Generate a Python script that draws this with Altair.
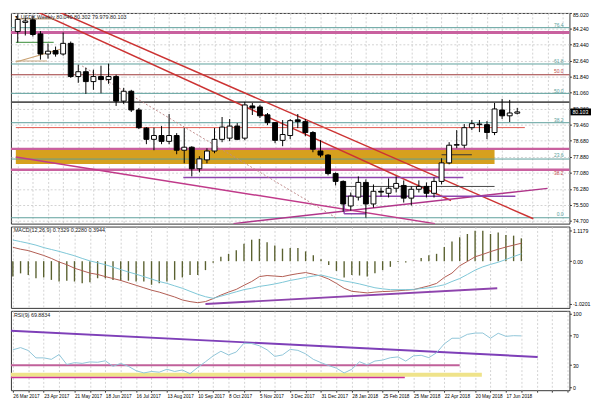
import json
import altair as alt
import pandas as pd

# ---------------- data ----------------
START = "2017-03-26"
opens  = [84.10, 84.55, 84.68, 83.98, 82.98, 83.15, 82.98, 83.51, 81.86, 82.10, 81.61, 81.86, 81.71, 81.86, 80.64, 81.13, 80.20,
          79.30, 78.74, 78.93, 78.64, 78.93, 78.20, 78.35, 77.28, 77.72, 78.16, 78.74, 78.80, 79.40, 78.80, 80.40, 80.35, 79.96,
          79.57, 78.69, 78.93, 79.71, 79.62, 79.08, 78.16, 77.96, 77.04, 76.65, 75.43, 75.87, 76.60, 75.53, 76.16, 76.06, 76.31,
          76.45, 75.82, 76.26, 76.40, 76.06, 76.65, 77.57, 78.45, 78.45, 79.32, 79.47, 79.47, 79.08, 80.20, 79.91, 80.040]
highs  = [84.95, 84.80, 84.88, 84.12, 83.50, 83.35, 84.05, 83.60, 82.45, 82.30, 82.20, 82.40, 82.50, 81.95, 81.30, 81.20, 80.30,
          79.35, 79.32, 79.40, 80.00, 79.05, 79.30, 78.40, 77.90, 78.30, 79.30, 79.85, 79.75, 79.55, 80.60, 80.55, 80.45, 80.05,
          79.60, 79.70, 79.75, 80.00, 79.75, 79.15, 78.70, 78.00, 77.10, 76.70, 76.10, 76.90, 76.75, 76.50, 76.35, 76.80, 76.90,
          76.70, 76.40, 76.70, 76.60, 76.85, 77.80, 78.60, 79.20, 79.50, 79.70, 79.70, 79.65, 80.55, 80.75, 80.70, 80.302]
lows   = [83.55, 83.90, 83.85, 82.70, 82.75, 82.85, 82.90, 81.80, 81.55, 81.00, 81.20, 81.03, 81.50, 80.40, 80.50, 80.10, 79.25,
          78.50, 78.20, 78.50, 78.50, 78.00, 77.55, 76.90, 77.10, 77.55, 78.05, 78.60, 78.65, 78.70, 78.70, 79.95, 79.80, 79.45,
          78.55, 78.40, 78.75, 79.30, 78.90, 78.10, 77.85, 76.95, 76.45, 75.15, 75.20, 75.70, 74.85, 75.35, 75.90, 75.85, 76.10,
          75.60, 75.45, 76.10, 75.85, 75.85, 76.50, 77.50, 78.30, 78.30, 79.20, 79.10, 78.75, 78.95, 79.75, 79.60, 79.979]
closes = [84.70, 84.62, 83.95, 82.98, 83.12, 82.98, 83.51, 81.86, 82.10, 81.61, 81.86, 81.71, 81.86, 80.64, 81.13, 80.20, 79.32,
          78.74, 78.93, 78.64, 78.93, 78.20, 78.35, 77.28, 77.77, 78.16, 78.74, 79.35, 79.40, 78.74, 80.45, 80.30, 79.91, 79.57,
          78.69, 78.98, 79.67, 79.62, 79.08, 78.25, 77.96, 77.04, 76.65, 75.53, 75.92, 76.60, 75.53, 76.16, 76.12, 76.31, 76.55,
          75.82, 76.26, 76.40, 76.06, 76.65, 77.57, 78.45, 78.48, 79.32, 79.52, 79.50, 79.08, 80.25, 79.91, 80.05, 80.103]

macd_hist = [-0.57, -0.45, -0.51, -0.63, -0.60, -0.69, -0.75, -0.72, -0.75, -0.81, -0.78, -0.63, -0.63, -0.69, -0.72, -0.72,
             -0.75, -0.75, -0.87, -0.81, -0.75, -0.69, -0.60, -0.51, -0.51, -0.33, -0.06, 0.16, 0.27, 0.40, 0.64, 0.79, 0.82,
             0.70, 0.58, 0.46, 0.48, 0.48, 0.36, 0.22, 0.07, -0.14, -0.36, -0.60, -0.51, -0.53, -0.57, -0.45, -0.33, -0.21,
             -0.03, -0.05, 0.02, 0.12, 0.22, 0.27, 0.52, 0.72, 0.88, 1.00, 1.12, 1.12, 1.00, 1.06, 0.96, 0.94, 0.84]
macd_red = [0.51, 0.44, 0.39, 0.30, 0.21, 0.10, -0.03, -0.13, -0.26, -0.35, -0.44, -0.49, -0.57, -0.64, -0.71, -0.80, -0.89,
            -0.98, -1.07, -1.14, -1.23, -1.32, -1.43, -1.49, -1.53, -1.49, -1.38, -1.25, -1.14, -1.04, -0.89, -0.75, -0.57,
            -0.53, -0.55, -0.57, -0.51, -0.46, -0.42, -0.48, -0.55, -0.66, -0.82, -1.00, -1.11, -1.14, -1.17, -1.14, -1.12,
            -1.11, -1.09, -1.07, -1.05, -0.98, -0.91, -0.82, -0.60, -0.44, -0.17, -0.01, 0.16, 0.25, 0.35, 0.44, 0.52, 0.59, 0.66]
macd_blue = [0.78, 0.72, 0.66, 0.59, 0.50, 0.43, 0.36, 0.28, 0.20, 0.10, 0.01, -0.06, -0.13, -0.22, -0.31, -0.40, -0.48,
             -0.57, -0.66, -0.75, -0.82, -0.91, -1.00, -1.11, -1.22, -1.31, -1.37, -1.29, -1.21, -1.13, -1.05, -1.00, -0.93,
             -0.89, -0.84, -0.78, -0.71, -0.66, -0.60, -0.55, -0.51, -0.58, -0.66, -0.73, -0.78, -0.84, -0.91, -0.98, -1.02,
             -1.05, -1.05, -1.05, -1.04, -1.01, -0.98, -0.93, -0.87, -0.75, -0.64, -0.49, -0.33, -0.21, -0.12, -0.04, 0.06, 0.17, 0.27]
rsi = [51, 54, 50, 40, 40, 38, 44.5, 31, 33.5, 32.5, 34.5, 34, 36, 28.5, 32.5, 28.5, 22.5, 19.5, 21.5, 20.5, 24.5, 21.5, 23.5,
       18.5, 27, 34.7, 42.7, 49, 44, 48, 60, 59.5, 56.5, 51, 42, 44, 51.6, 50.2, 45.5, 38, 33.5, 29.5, 26, 19.5, 24.5, 34.7,
       30.5, 35.7, 37, 40.2, 41.3, 35.6, 42.7, 43.5, 40.3, 47, 59, 66.7, 66.7, 72, 73.7, 73.8, 66.7, 73.5, 69.3, 70.2, 69.9]

price_ticks = [85.020, 84.240, 83.440, 82.640, 81.840, 81.060, 80.260, 79.460, 78.680, 77.880, 77.080, 76.280, 75.500, 74.700]

# full-width horizontal levels
level_prices = [84.289, 84.046, 82.484, 81.950, 81.025, 80.590, 79.567, 78.270, 77.762, 77.230, 74.845]
level_colors = ["#5a9e9a", "#c9619f", "#5a9e9a", "#9e3b3b", "#5a9e9a", "#555555", "#5a9e9a", "#c9619f", "#5a9e9a", "#c9619f", "#5a9e9a"]
level_widths = [1, 3, 1, 1.2, 1, 1.8, 1, 2.2, 1, 2.4, 1]

# fibonacci labels at the right edge
fib_text   = ["76.4", "61.8", "50.0", "50.0", "38.2", "23.6", "38.2", "0.0"]
fib_price  = [84.436, 82.634, 82.148, 81.125, 79.713, 77.961, 77.084, 75.040]
fib_color  = ["#5a9e9a", "#5a9e9a", "#c0504d", "#5a9e9a", "#5a9e9a", "#5a9e9a", "#c0504d", "#5a9e9a"]

# drawn trend lines / segments (week index, price)
seg_w1 = [3.375, 0.625, -0.25, 28.5, -0.25, -0.25, -0.25, -0.25, -0.25, 21.875, 42.625, 43.125, 43.125, 43.125, 56.0]
seg_p1 = [85.41, 85.41, 77.863, 74.553, 82.586, 84.728, 83.559, 82.634, 79.324, 76.84, 76.40, 75.916, 75.04, 75.916, 77.975]
seg_w2 = [68.125, 57.25, 55.125, 70.0, 5.625, 5.0, 4.75, 3.875, 67.0, 58.875, 63.0, 65.75, 46.0, 43.125, 60.0]
seg_p2 = [74.796, 75.70, 74.553, 76.305, 83.219, 84.728, 83.559, 82.634, 79.324, 76.84, 76.40, 75.916, 75.04, 75.04, 77.975]
seg_color = ["#cc3333", "#cc3333", "#c03a8a", "#b0358a", "#c8a070", "#c8a882", "#5fa35f", "#c8a882", "#e0584f",
             "#8e44ad", "#444444", "#8e44ad", "#8e44ad", "#8e44ad", "#333333"]
seg_width = [1.5, 1.5, 1.5, 1.5, 1.2, 1.2, 1.2, 1.2, 1, 1.5, 1, 1.5, 1.5, 1.5, 1]

dotted_w = [8.5, 42.25]
dotted_p = [82.39, 74.80]

zone_w = [-0.25, 63.0]
zone_p = [77.52, 78.27]

macd_trend_w = [25.0, 62.875]
macd_trend_v = [-1.578, -1.0]

rsi_trend_w = [-0.25, 68.125]
rsi_trend_v = [77.0, 41.3]
rsi_seg_w2 = [58.0, 60.875, 50.875]
rsi_seg_v = [30.0, 17.0, 13.3]
rsi_seg_color = ["#c0609a", "#efe38a", "#cc3399"]
rsi_seg_width = [2, 4, 1.5]

title_main = "\u25bc USDX,Weekly  80.040 80.302 79.979 80.103"
title_macd = "MACD(12,26,9) 0.7329 0.2280 0.3944"
title_rsi = "RSI(9) 69.8834"
last_price = 80.103

# ---------------- tables ----------------
n = len(opens)
wk = list(range(n))
candles = pd.DataFrame({"wk": wk, "open": opens, "high": highs, "low": lows, "close": closes})
ind = pd.DataFrame({"wk": wk, "hist": macd_hist, "red": macd_red, "blue": macd_blue, "rsi": rsi, "zero": 0.0})
levels = pd.DataFrame({"p": level_prices, "c": level_colors, "sw": level_widths})
fibs = pd.DataFrame({"t": fib_text, "p": fib_price, "c": fib_color, "wk": 72.1})
segs = pd.DataFrame({"w1": seg_w1, "p1": seg_p1, "w2": seg_w2, "p2": seg_p2, "c": seg_color, "sw": seg_width})
dotted = pd.DataFrame({"w1": [dotted_w[0]], "p1": [dotted_p[0]], "w2": [dotted_w[1]], "p2": [dotted_p[1]]})
zone = pd.DataFrame({"w1": [zone_w[0]], "w2": [zone_w[1]], "p1": [zone_p[0]], "p2": [zone_p[1]]})
tag = pd.DataFrame({"p": [last_price], "lo": [last_price - 0.17], "hi": [last_price + 0.17], "t": [f"{last_price:.3f}"]})
mtrend = pd.DataFrame({"w1": [macd_trend_w[0]], "v1": [macd_trend_v[0]], "w2": [macd_trend_w[1]], "v2": [macd_trend_v[1]]})
rtrend = pd.DataFrame({"w1": [rsi_trend_w[0]], "v1": [rsi_trend_v[0]], "w2": [rsi_trend_w[1]], "v2": [rsi_trend_v[1]]})
rsegs = pd.DataFrame({"w1": -0.25, "w2": rsi_seg_w2, "v": rsi_seg_v, "c": rsi_seg_color, "sw": rsi_seg_width})

label_dates = pd.date_range(START, periods=17, freq="28D")
date_labels = [f"{d.day} {d.strftime('%b %Y')}" for d in label_dates]

# ---------------- encodings ----------------
W = 570
FONT = "Liberation Sans"
GRID = "#c6c6c6"
grid_weeks = list(range(0, 73, 2))
xs = alt.Scale(domain=[-0.25, 72.25], nice=False, zero=False)

ax_top = alt.Axis(values=grid_weeks, labels=False, ticks=False, domain=False, title=None,
                  grid=True, gridColor=GRID, gridDash=[2, 2], gridWidth=0.8)
ax_bottom = alt.Axis(values=grid_weeks, title=None, domain=False, grid=True, gridColor=GRID,
                     gridDash=[2, 2], gridWidth=0.8, ticks=True, tickSize=2, tickColor="#333",
                     labelAlign="left", labelPadding=1, labelFontSize=4.8, labelFont=FONT, labelColor="#000",
                     labelOverlap=False, labelBound=False,
                     labelExpr=f"(datum.value % 4 === 0 && datum.value <= 64) ? {json.dumps(date_labels)}[datum.value / 4] : ''")


def X(field, axis):
    return alt.X(field, type="quantitative", scale=xs, axis=axis)


def yaxis(values, fmt=None, expr=None, grid=True):
    kw = dict(orient="right", values=values, title=None, domain=False, tickSize=2, tickColor="#333",
              labelPadding=1, labelFontSize=5.3, labelFont=FONT, labelColor="#000", labelOverlap=False,
              labelFlush=True, grid=grid, gridColor=GRID, gridDash=[2, 2], gridWidth=0.8)
    if fmt:
        kw["format"] = fmt
    if expr:
        kw["labelExpr"] = expr
    return alt.Axis(**kw)


ys_main = alt.Scale(domain=[74.553, 85.02], nice=False, zero=False)
ax_main = yaxis(price_ticks, fmt=".3f")


def YM(field):
    return alt.Y(field, type="quantitative", scale=ys_main, axis=ax_main)


# ---------------- main panel ----------------
zone_l = alt.Chart(zone).mark_rect(color="#d6a01e", clip=True).encode(
    x=X("w1", ax_top), x2="w2", y=YM("p1"), y2="p2")
levels_l = alt.Chart(levels).mark_rule().encode(
    y=YM("p"), color=alt.Color("c:N", scale=None), strokeWidth=alt.StrokeWidth("sw:Q", scale=None))
segs_l = alt.Chart(segs).mark_rule(clip=True).encode(
    x=X("w1", ax_top), x2="w2", y=YM("p1"), y2="p2",
    color=alt.Color("c:N", scale=None), strokeWidth=alt.StrokeWidth("sw:Q", scale=None))
dotted_l = alt.Chart(dotted).mark_rule(clip=True, color="#c08a8a", strokeDash=[2, 2], strokeWidth=1).encode(
    x=X("w1", ax_top), x2="w2", y=YM("p1"), y2="p2")
wick_l = alt.Chart(candles).mark_rule(color="#000", strokeWidth=1).encode(
    x=X("wk", ax_top), y=YM("low"), y2="high")
body_l = alt.Chart(candles).mark_bar(size=5, stroke="#000", strokeWidth=1).encode(
    x=X("wk", ax_top), y=YM("open"), y2="close",
    fill=alt.condition("datum.close >= datum.open", alt.value("#ffffff"), alt.value("#000000")))
fib_l = alt.Chart(fibs).mark_text(align="right", baseline="middle", fontSize=5, font=FONT).encode(
    x=X("wk", ax_top), y=YM("p"), text="t:N", color=alt.Color("c:N", scale=None))
tag_rect = alt.Chart(tag).mark_rect(color="#000", clip=False).encode(
    x=alt.value(W + 1), x2=alt.value(W + 22), y=YM("lo"), y2="hi")
tag_text = alt.Chart(tag).mark_text(align="left", baseline="middle", fontSize=5.3, font=FONT, color="#fff").encode(
    x=alt.value(W + 3), y=YM("p"), text="t:N")
title_l = alt.Chart(pd.DataFrame({"t": [title_main]})).mark_text(
    align="left", baseline="middle", fontSize=5.5, font=FONT, color="#222").encode(
    x=alt.value(3), y=alt.value(4), text="t:N")

main = alt.layer(zone_l, levels_l, segs_l, dotted_l, wick_l, body_l, fib_l, tag_rect, tag_text, title_l).properties(
    width=W, height=215)

# ---------------- MACD panel ----------------
ys_macd = alt.Scale(domain=[-1.722, 1.274], nice=False, zero=False)
ax_macd = yaxis([1.1179, 0, -1.567], grid=False,
                expr="datum.value > 1 ? '1.1179' : (datum.value < -1 ? '-1.0201' : '0.00')")


def YD(field):
    return alt.Y(field, type="quantitative", scale=ys_macd, axis=ax_macd)


hist_l = alt.Chart(ind).mark_rule(color="#5a6130", strokeWidth=1.4).encode(
    x=X("wk", ax_top), y=YD("hist"), y2="zero")
red_l = alt.Chart(ind).mark_line(color="#b05a50", strokeWidth=1).encode(x=X("wk", ax_top), y=YD("red"))
blue_l = alt.Chart(ind).mark_line(color="#7cc6d6", strokeWidth=1).encode(x=X("wk", ax_top), y=YD("blue"))
mtr_l = alt.Chart(mtrend).mark_rule(color="#8e44ad", strokeWidth=2).encode(
    x=X("w1", ax_top), x2="w2", y=YD("v1"), y2="v2")
mt_l = alt.Chart(pd.DataFrame({"t": [title_macd]})).mark_text(
    align="left", baseline="middle", fontSize=5.5, font=FONT, color="#222").encode(
    x=alt.value(3), y=alt.value(4), text="t:N")
macd = alt.layer(hist_l, red_l, blue_l, mtr_l, mt_l).properties(width=W, height=83)

# ---------------- RSI panel ----------------
ys_rsi = alt.Scale(domain=[-4, 104], nice=False, zero=False)
ax_rsi = yaxis([100, 70, 30, 0], fmt="d", grid=False)


def YR(field):
    return alt.Y(field, type="quantitative", scale=ys_rsi, axis=ax_rsi)


rseg_l = alt.Chart(rsegs).mark_rule().encode(
    x=X("w1", ax_bottom), x2="w2", y=YR("v"),
    color=alt.Color("c:N", scale=None), strokeWidth=alt.StrokeWidth("sw:Q", scale=None))
rtr_l = alt.Chart(rtrend).mark_rule(color="#7e3fb8", strokeWidth=2).encode(
    x=X("w1", ax_bottom), x2="w2", y=YR("v1"), y2="v2")
rsi_l = alt.Chart(ind).mark_line(color="#8ec5d8", strokeWidth=1).encode(x=X("wk", ax_bottom), y=YR("rsi"))
rt_l = alt.Chart(pd.DataFrame({"t": [title_rsi]})).mark_text(
    align="left", baseline="middle", fontSize=5.5, font=FONT, color="#222").encode(
    x=alt.value(3), y=alt.value(4), text="t:N")
rsi_panel = alt.layer(rseg_l, rtr_l, rsi_l, rt_l).properties(width=W, height=81)

chart = alt.vconcat(main, macd, rsi_panel, spacing=1).configure(
    padding=0, background="#ffffff"
).configure_view(stroke="#333333", strokeWidth=1)

chart.save("out.html", embed_options={"renderer": "svg", "actions": False})
